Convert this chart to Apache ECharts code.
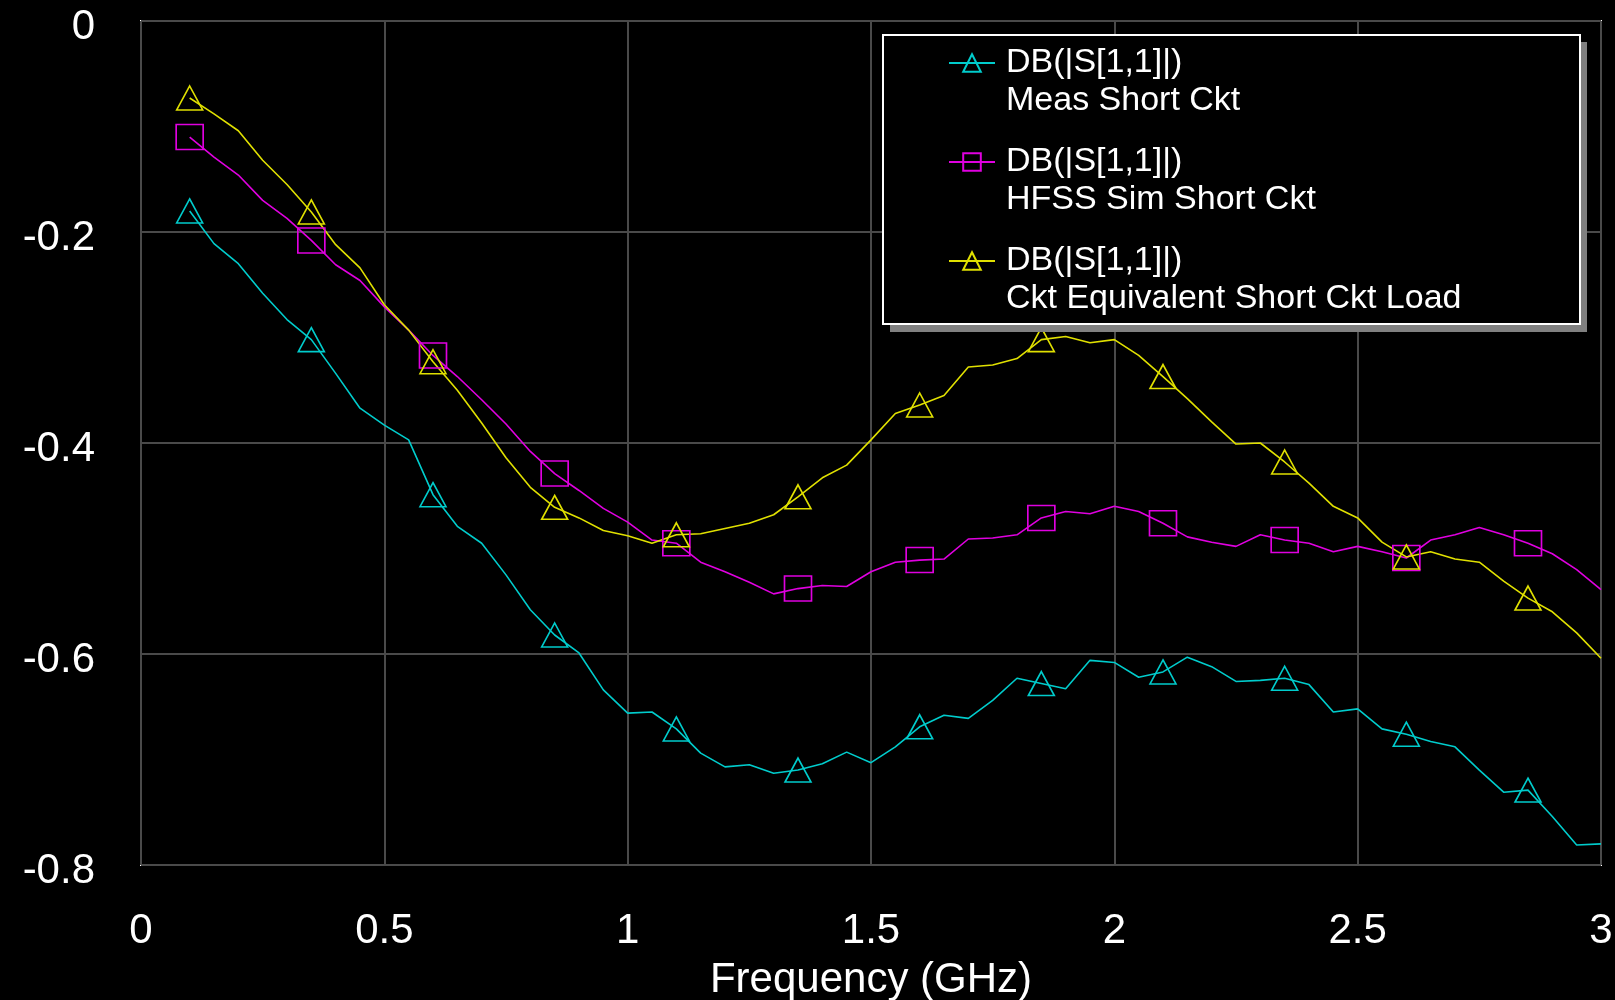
<!DOCTYPE html>
<html>
<head>
<meta charset="utf-8">
<title>S11 short circuit comparison</title>
<script src="https://cdn.jsdelivr.net/npm/echarts@6/dist/echarts.min.js"></script>
<style>
  html, body { margin: 0; padding: 0; background: #000; }
  #chart { width: 1615px; height: 1000px; }
</style>
</head>
<body>
<div id="chart"></div>
<script>
// frequency points (GHz)
const freq = [
  0.10, 0.15, 0.20, 0.25, 0.30, 0.35, 0.40, 0.45, 0.50, 0.55,
  0.60, 0.65, 0.70, 0.75, 0.80, 0.85, 0.90, 0.95, 1.00, 1.05,
  1.10, 1.15, 1.20, 1.25, 1.30, 1.35, 1.40, 1.45, 1.50, 1.55,
  1.60, 1.65, 1.70, 1.75, 1.80, 1.85, 1.90, 1.95, 2.00, 2.05,
  2.10, 2.15, 2.20, 2.25, 2.30, 2.35, 2.40, 2.45, 2.50, 2.55,
  2.60, 2.65, 2.70, 2.75, 2.80, 2.85, 2.90, 2.95, 3.00
];

// DB(|S[1,1]|) - Meas Short Ckt
const measShort = [
  -0.180, -0.211, -0.230, -0.258, -0.283, -0.302, -0.334, -0.367, -0.383, -0.397,
  -0.449, -0.479, -0.495, -0.525, -0.558, -0.582, -0.599, -0.634, -0.656, -0.655,
  -0.671, -0.694, -0.707, -0.705, -0.713, -0.710, -0.704, -0.693, -0.703, -0.688,
  -0.669, -0.658, -0.661, -0.644, -0.623, -0.628, -0.633, -0.606, -0.608, -0.622,
  -0.617, -0.603, -0.612, -0.626, -0.625, -0.623, -0.629, -0.655, -0.652, -0.671,
  -0.676, -0.683, -0.688, -0.710, -0.731, -0.729, -0.754, -0.781, -0.780
];

// DB(|S[1,1]|) - HFSS Sim Short Ckt
const hfssShort = [
  -0.110, -0.129, -0.146, -0.170, -0.187, -0.208, -0.231, -0.246, -0.271, -0.293,
  -0.317, -0.337, -0.359, -0.382, -0.408, -0.429, -0.445, -0.462, -0.475, -0.492,
  -0.495, -0.513, -0.522, -0.532, -0.543, -0.538, -0.535, -0.536, -0.522, -0.513,
  -0.511, -0.510, -0.491, -0.490, -0.487, -0.471, -0.465, -0.467, -0.460, -0.465,
  -0.476, -0.489, -0.494, -0.498, -0.487, -0.492, -0.495, -0.503, -0.498, -0.503,
  -0.509, -0.492, -0.487, -0.480, -0.487, -0.495, -0.505, -0.520, -0.539
];

// DB(|S[1,1]|) - Ckt Equivalent Short Ckt Load
const cktEquiv = [
  -0.073, -0.088, -0.104, -0.132, -0.155, -0.181, -0.212, -0.234, -0.269, -0.293,
  -0.323, -0.350, -0.381, -0.414, -0.442, -0.461, -0.471, -0.483, -0.488, -0.495,
  -0.487, -0.486, -0.481, -0.476, -0.468, -0.451, -0.433, -0.421, -0.397, -0.372,
  -0.364, -0.355, -0.328, -0.326, -0.320, -0.302, -0.299, -0.305, -0.302, -0.317,
  -0.337, -0.358, -0.380, -0.401, -0.400, -0.418, -0.438, -0.460, -0.471, -0.494,
  -0.508, -0.503, -0.510, -0.513, -0.531, -0.547, -0.560, -0.580, -0.604
];

const seriesNames = ['Meas Short Ckt', 'HFSS Sim Short Ckt', 'Ckt Equivalent Short Ckt Load'];
const measureName = 'DB(|S[1,1]|)';

const FONT = '"Liberation Sans", Arial, sans-serif';

// one marker every 5th sweep point, the rest plain line
function toData(values) {
  return values.map((v, i) => {
    const item = { value: [freq[i], v] };
    if (i % 5 !== 0) item.symbol = 'none';
    return item;
  });
}

function makeSeries(name, values, color, symbol, size) {
  return {
    name: name,
    type: 'line',
    data: toData(values),
    symbol: symbol,
    symbolSize: size,
    showSymbol: true,
    animation: false,
    lineStyle: { color: color, width: 1.6 },
    itemStyle: { color: 'rgba(0,0,0,0)', borderColor: color, borderWidth: 1.6 },
    emphasis: { disabled: true }
  };
}

const chart = echarts.init(document.getElementById('chart'));

const option = {
  backgroundColor: '#000',
  animation: false,
  textStyle: { fontFamily: FONT },
  grid: {
    left: 141,
    right: 14,
    top: 21,
    bottom: 135,
    outerBoundsMode: 'none',
    show: true,
    borderColor: '#ffffff',
    borderWidth: 2,
    backgroundColor: 'transparent'
  },
  graphic: [
    // legend frame with drop shadow
    {
      type: 'rect',
      left: 890, top: 42, z: 90,
      shape: { width: 697, height: 290 },
      style: { fill: '#808080' }
    },
    {
      type: 'rect',
      left: 882, top: 34, z: 91,
      shape: { width: 697, height: 289 },
      style: { fill: '#000', stroke: '#ffffff', lineWidth: 2 }
    }
  ],
  legend: {
    orient: 'vertical',
    left: 948,
    top: 6,
    padding: 0,
    z: 100,
    itemGap: -15,
    itemWidth: 46,
    itemHeight: 22,
    selectedMode: false,
    data: seriesNames,
    // empty first line keeps the icon level with the first text line
    formatter: name => '\n' + measureName + '\n' + name,
    textStyle: {
      color: '#ffffff',
      fontFamily: FONT,
      fontSize: 34,
      lineHeight: 38,
      padding: [0, 0, 0, 6]
    }
  },
  xAxis: {
    type: 'value',
    min: 0,
    max: 3,
    interval: 0.5,
    name: 'Frequency (GHz)',
    nameLocation: 'middle',
    nameGap: 94,
    nameTextStyle: { color: '#ffffff', fontSize: 42, fontFamily: FONT },
    axisLine: { show: false },
    axisTick: { show: false },
    axisLabel: { color: '#ffffff', fontSize: 42, fontFamily: FONT, margin: 45 },
    splitLine: { lineStyle: { color: '#4a4a4a', width: 2 } }
  },
  yAxis: {
    type: 'value',
    min: -0.8,
    max: 0,
    interval: 0.2,
    axisLine: { show: false },
    axisTick: { show: false },
    axisLabel: {
      color: '#ffffff', fontSize: 42, fontFamily: FONT, margin: 46,
      verticalAlign: 'top', lineHeight: 12
    },
    splitLine: { lineStyle: { color: '#4a4a4a', width: 2 } }
  },
  series: [
    makeSeries(seriesNames[0], measShort, '#00cccc', 'triangle', [26, 24]),
    makeSeries(seriesNames[1], hfssShort, '#e000e0', 'rect', [27, 25]),
    makeSeries(seriesNames[2], cktEquiv, '#e0e000', 'triangle', [26, 24])
  ]
};

chart.setOption(option);
</script>
</body>
</html>
